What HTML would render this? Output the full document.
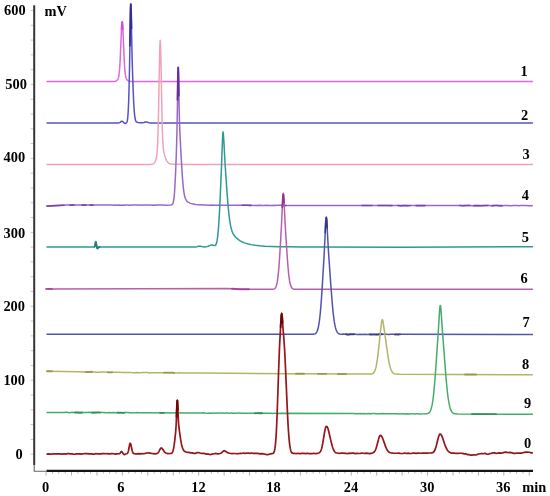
<!DOCTYPE html>
<html><head><meta charset="utf-8"><style>
html,body{margin:0;padding:0;background:#fff;width:550px;height:496px;overflow:hidden}
svg{display:block;filter:blur(0.4px)}
text{font-family:"Liberation Serif",serif}
</style></head><body>
<svg width="550" height="496" viewBox="0 0 550 496">
<rect width="550" height="496" fill="#fff"/>
<path d="M30.6 10.50H33.2 M30.6 25.29H33.2 M30.6 40.08H33.2 M30.6 54.87H33.2 M30.6 69.66H33.2 M30.6 84.45H33.2 M30.6 99.24H33.2 M30.6 114.03H33.2 M30.6 128.82H33.2 M30.6 143.61H33.2 M30.6 158.40H33.2 M30.6 173.19H33.2 M30.6 187.98H33.2 M30.6 202.77H33.2 M30.6 217.56H33.2 M30.6 232.35H33.2 M30.6 247.14H33.2 M30.6 261.93H33.2 M30.6 276.72H33.2 M30.6 291.51H33.2 M30.6 306.30H33.2 M30.6 321.09H33.2 M30.6 335.88H33.2 M30.6 350.67H33.2 M30.6 365.46H33.2 M30.6 380.25H33.2 M30.6 395.04H33.2 M30.6 409.83H33.2 M30.6 424.62H33.2 M30.6 439.41H33.2 M30.6 454.20H33.2" stroke="#c4c4c4" stroke-width="1" fill="none"/>
<path d="M52.46 472V473.6 M58.81 472V473.6 M65.17 472V473.6 M77.89 472V473.6 M84.25 472V473.6 M90.60 472V473.6 M103.32 472V473.6 M109.68 472V473.6 M116.03 472V473.6 M128.75 472V473.6 M135.10 472V473.6 M141.46 472V473.6 M154.18 472V473.6 M160.53 472V473.6 M166.89 472V473.6 M179.61 472V473.6 M185.97 472V473.6 M192.32 472V473.6 M205.04 472V473.6 M211.39 472V473.6 M217.75 472V473.6 M230.47 472V473.6 M236.82 472V473.6 M243.18 472V473.6 M255.90 472V473.6 M262.25 472V473.6 M268.61 472V473.6 M281.33 472V473.6 M287.69 472V473.6 M294.04 472V473.6 M306.76 472V473.6 M313.12 472V473.6 M319.47 472V473.6 M332.19 472V473.6 M338.55 472V473.6 M344.90 472V473.6 M357.62 472V473.6 M363.98 472V473.6 M370.33 472V473.6 M383.05 472V473.6 M389.41 472V473.6 M395.76 472V473.6 M408.48 472V473.6 M414.84 472V473.6 M421.19 472V473.6 M433.91 472V473.6 M440.27 472V473.6 M446.62 472V473.6 M459.34 472V473.6 M465.69 472V473.6 M472.05 472V473.6 M484.77 472V473.6 M491.12 472V473.6 M497.48 472V473.6 M510.20 472V473.6 M516.55 472V473.6 M522.91 472V473.6" stroke="#b4b4b4" stroke-width="1" fill="none"/>
<path d="M46.10 472V475.6 M71.53 472V475.6 M96.96 472V475.6 M122.39 472V475.6 M147.82 472V475.6 M173.25 472V475.6 M198.68 472V475.6 M224.11 472V475.6 M249.54 472V475.6 M274.97 472V475.6 M300.40 472V475.6 M325.83 472V475.6 M351.26 472V475.6 M376.69 472V475.6 M402.12 472V475.6 M427.55 472V475.6 M452.98 472V475.6 M478.41 472V475.6 M503.84 472V475.6 M529.27 472V475.6" stroke="#b0b0b0" stroke-width="1" fill="none"/>
<path d="M34.2 5.2V465" stroke="#363636" stroke-width="2.0" fill="none"/>
<path d="M34.2 465V471.2H46.5" stroke="#666" stroke-width="1.1" fill="none"/>
<path d="M46.5 470.9H533" stroke="#141414" stroke-width="2.2" fill="none"/>
<path d="M46.50 81.50 L112.50 81.49 L114.10 81.43 L115.10 81.29 L115.90 81.03 L116.30 80.82 L116.70 80.54 L117.30 79.95 L117.70 79.38 L118.10 78.58 L118.50 77.38 L118.90 75.49 L119.10 74.17 L119.50 70.44 L119.90 64.89 L120.30 57.28 L121.50 29.14 L121.70 25.77 L121.90 23.39 L122.10 22.16 L122.20 22.00 L122.30 22.16 L122.50 23.39 L122.70 25.77 L123.10 33.30 L123.90 52.78 L124.30 61.34 L124.70 67.92 L124.90 70.44 L125.30 74.17 L125.50 75.49 L125.90 77.38 L126.30 78.58 L126.70 79.38 L127.30 80.17 L127.90 80.69 L128.70 81.11 L129.70 81.36 L131.10 81.47 L134.30 81.50 L532.90 81.50" stroke="#dc69dc" stroke-width="1.5" fill="none" stroke-linejoin="round"/>
<path d="M121.50 29.14 L121.70 25.77 L121.90 23.39 L122.10 22.16 L122.20 22.00 L122.30 22.16 L122.50 23.39 L122.70 25.77 L122.90 29.14" stroke="#e23ae2" stroke-width="1.6" fill="none" stroke-linecap="round" opacity="0.8"/>
<path d="M46.50 122.90 L117.90 122.91 L118.90 122.84 L119.50 122.68 L120.10 122.36 L121.30 121.42 L121.70 121.24 L121.90 121.22 L122.30 121.31 L122.70 121.56 L124.30 123.09 L124.70 123.36 L124.90 123.43 L125.30 123.43 L125.70 123.28 L126.30 122.87 L126.70 122.40 L126.90 122.03 L127.10 121.48 L127.30 120.70 L127.50 119.60 L127.70 118.06 L127.90 115.99 L128.30 109.79 L128.70 100.23 L129.10 86.82 L129.50 68.93 L130.50 10.21 L130.70 4.56 L130.80 3.82 L130.90 4.58 L131.10 9.54 L131.90 48.31 L132.30 64.29 L133.10 88.63 L133.70 102.43 L133.90 106.04 L134.30 111.82 L134.70 115.86 L135.10 118.52 L135.50 120.17 L135.90 121.16 L136.10 121.48 L136.50 121.92 L136.90 122.17 L137.30 122.32 L138.10 122.49 L139.50 122.66 L141.10 122.76 L142.30 122.77 L143.30 122.65 L143.90 122.48 L145.30 121.99 L145.70 121.91 L146.10 121.89 L146.70 122.00 L148.30 122.60 L149.10 122.79 L150.30 122.90 L152.30 122.92 L532.90 123.00" stroke="#5353c2" stroke-width="1.5" fill="none" stroke-linejoin="round"/>
<path d="M129.90 45.71 L130.30 20.24 L130.50 10.21 L130.70 4.56 L130.80 3.82 L130.90 4.58 L131.10 9.54 L131.50 28.25" stroke="#26268a" stroke-width="1.8" fill="none" stroke-linecap="round" opacity="0.8"/>
<path d="M46.50 164.40 L149.90 164.39 L151.50 164.33 L152.50 164.17 L153.30 163.85 L153.70 163.58 L154.10 163.21 L154.70 162.41 L155.30 161.24 L155.90 159.56 L156.30 158.02 L156.70 155.85 L156.90 154.36 L157.30 150.02 L157.50 146.84 L157.90 137.54 L158.30 123.20 L158.70 103.58 L159.30 69.21 L159.70 50.15 L159.90 43.95 L160.10 40.71 L160.20 40.30 L160.30 40.79 L160.50 44.06 L160.70 50.16 L161.10 68.66 L161.90 111.72 L162.30 127.96 L162.70 139.00 L163.10 145.79 L163.50 149.83 L163.90 152.36 L164.50 154.92 L164.90 156.28 L165.50 158.05 L165.90 159.07 L166.50 160.39 L166.90 161.11 L167.50 162.00 L167.90 162.47 L168.50 163.02 L169.10 163.41 L169.90 163.76 L170.70 163.98 L171.50 164.11 L173.70 164.27 L177.90 164.36 L185.30 164.39 L532.90 164.40" stroke="#efa3b6" stroke-width="1.5" fill="none" stroke-linejoin="round"/>
<path d="M46.50 206.10 L66.10 205.10 L109.90 205.10 L112.10 205.06 L113.70 205.14 L115.30 205.10 L116.90 205.17 L118.50 205.12 L121.70 205.18 L123.30 205.02 L124.90 205.18 L126.50 205.04 L128.10 205.06 L129.70 205.18 L132.90 205.00 L134.50 205.00 L136.10 205.09 L139.30 205.06 L140.90 205.14 L144.10 205.08 L145.70 205.12 L147.30 205.04 L148.90 205.11 L150.50 205.05 L152.10 205.19 L153.70 205.11 L155.30 205.19 L156.90 205.07 L158.50 205.03 L160.10 205.09 L163.30 205.08 L164.90 205.15 L171.10 205.04 L171.70 204.88 L172.10 204.64 L172.30 204.44 L172.70 203.85 L172.90 203.41 L173.30 202.13 L173.70 200.11 L174.10 197.06 L174.50 192.70 L174.90 186.80 L175.50 174.94 L176.30 154.50 L176.90 134.28 L177.30 113.14 L177.90 74.59 L178.10 67.96 L178.20 67.09 L178.30 68.20 L178.50 74.29 L179.30 115.43 L179.70 128.13 L180.10 136.74 L181.50 162.90 L182.30 175.62 L182.90 183.22 L183.50 189.08 L184.10 193.37 L184.70 196.33 L185.30 198.33 L185.90 199.71 L186.30 200.41 L186.70 200.97 L187.30 201.63 L188.10 202.17 L190.50 203.39 L192.10 203.84 L193.70 204.10 L195.30 204.52 L200.10 204.75 L203.30 205.01 L204.90 205.05 L206.50 205.03 L208.10 205.17 L209.70 205.20 L211.30 205.04 L214.50 205.21 L216.10 205.17 L217.70 205.21 L219.30 205.10 L220.90 205.22 L222.50 205.14 L224.10 205.15 L225.70 205.24 L227.30 205.26 L228.90 205.21 L230.50 205.24 L232.10 205.21 L233.70 205.27 L235.30 205.18 L238.50 205.33 L240.10 205.21 L241.70 205.19 L244.90 205.27 L248.10 205.21 L249.70 205.40 L251.30 205.31 L252.90 205.41 L260.90 205.27 L262.50 205.40 L264.10 205.45 L265.70 205.26 L270.50 205.46 L272.10 205.48 L273.70 205.31 L275.30 205.40 L276.90 205.34 L281.70 205.37 L283.30 205.48 L284.90 205.49 L288.10 205.40 L291.30 205.41 L296.10 205.55 L297.70 205.46 L300.90 205.50 L304.10 205.41 L305.70 205.41 L307.30 205.58 L312.10 205.47 L313.70 205.55 L315.30 205.42 L316.90 205.52 L318.50 205.45 L320.10 205.60 L321.70 205.55 L323.30 205.61 L324.90 205.45 L326.50 205.51 L328.10 205.42 L331.30 205.55 L334.50 205.54 L337.70 205.59 L339.30 205.49 L340.90 205.55 L344.10 205.48 L345.70 205.56 L350.50 205.56 L352.10 205.49 L353.70 205.60 L355.30 205.54 L356.90 205.60 L358.50 205.49 L360.10 205.57 L361.70 205.43 L363.30 205.53 L364.90 205.50 L366.50 205.52 L368.10 205.47 L371.30 205.50 L372.90 205.62 L374.50 205.60 L376.10 205.48 L377.70 205.55 L379.30 205.44 L380.90 205.51 L385.70 205.44 L387.30 205.51 L388.90 205.45 L390.50 205.55 L393.70 205.62 L395.30 205.59 L396.90 205.46 L398.50 205.51 L400.10 205.63 L401.70 205.64 L403.30 205.55 L404.90 205.54 L408.10 205.64 L409.70 205.59 L411.30 205.47 L414.50 205.49 L416.10 205.60 L417.70 205.52 L419.30 205.61 L420.90 205.59 L422.50 205.46 L424.10 205.61 L427.30 205.61 L428.90 205.48 L432.10 205.54 L433.70 205.49 L435.30 205.57 L436.90 205.48 L438.50 205.50 L440.10 205.60 L444.90 205.57 L446.50 205.50 L449.70 205.52 L452.90 205.61 L456.10 205.47 L457.70 205.54 L459.30 205.53 L460.90 205.62 L462.50 205.65 L467.30 205.53 L468.90 205.58 L470.50 205.56 L472.10 205.66 L476.90 205.61 L480.10 205.65 L483.30 205.61 L484.90 205.51 L488.10 205.48 L489.70 205.53 L491.30 205.68 L492.90 205.64 L494.50 205.48 L496.10 205.54 L497.70 205.51 L499.30 205.65 L502.50 205.67 L504.10 205.58 L507.30 205.59 L510.50 205.69 L513.70 205.51 L516.90 205.58 L518.50 205.68 L520.10 205.61 L521.70 205.62 L523.30 205.57 L524.90 205.62 L526.50 205.54 L528.10 205.64 L529.70 205.55 L531.30 205.68 L532.90 205.60" stroke="#9a68c4" stroke-width="1.5" fill="none" stroke-linejoin="round"/>
<path d="M47.00 206.10 L64.00 205.21" stroke="#6e38a4" stroke-width="1.6" fill="none" stroke-linecap="round" opacity="0.8"/>
<path d="M70.00 205.10 L74.00 205.10" stroke="#6e38a4" stroke-width="1.6" fill="none" stroke-linecap="round" opacity="0.8"/>
<path d="M82.00 205.10 L86.00 205.10" stroke="#6e38a4" stroke-width="1.6" fill="none" stroke-linecap="round" opacity="0.8"/>
<path d="M90.00 205.10 L93.00 205.10" stroke="#6e38a4" stroke-width="1.6" fill="none" stroke-linecap="round" opacity="0.8"/>
<path d="M242.00 205.20 L244.80 205.27 L248.00 205.21 L249.80 205.39 L251.00 205.32" stroke="#6e38a4" stroke-width="1.6" fill="none" stroke-linecap="round" opacity="0.8"/>
<path d="M282.00 205.39 L283.40 205.48 L286.00 205.47" stroke="#6e38a4" stroke-width="1.6" fill="none" stroke-linecap="round" opacity="0.8"/>
<path d="M362.00 205.45 L363.40 205.53 L366.60 205.52 L368.20 205.47 L371.20 205.50 L372.00 205.56" stroke="#6e38a4" stroke-width="1.6" fill="none" stroke-linecap="round" opacity="0.8"/>
<path d="M378.00 205.53 L379.40 205.44 L381.00 205.51 L385.60 205.45 L387.40 205.50 L388.80 205.45 L392.00 205.58" stroke="#6e38a4" stroke-width="1.6" fill="none" stroke-linecap="round" opacity="0.8"/>
<path d="M398.00 205.50 L400.20 205.63 L401.60 205.64 L404.80 205.54 L408.00 205.64 L410.00 205.57" stroke="#6e38a4" stroke-width="1.6" fill="none" stroke-linecap="round" opacity="0.8"/>
<path d="M416.00 205.59 L417.60 205.52 L419.40 205.61 L420.80 205.59 L422.40 205.47 L424.00 205.60 L425.00 205.60" stroke="#6e38a4" stroke-width="1.6" fill="none" stroke-linecap="round" opacity="0.8"/>
<path d="M460.00 205.57 L462.40 205.64 L467.20 205.53 L470.00 205.57" stroke="#6e38a4" stroke-width="1.6" fill="none" stroke-linecap="round" opacity="0.8"/>
<path d="M474.00 205.66 L477.00 205.61 L480.00 205.65 L483.20 205.61 L485.00 205.51 L488.00 205.48" stroke="#6e38a4" stroke-width="1.6" fill="none" stroke-linecap="round" opacity="0.8"/>
<path d="M492.00 205.66 L493.00 205.63 L494.60 205.49 L496.00 205.54 L497.80 205.52 L499.40 205.65 L502.00 205.66" stroke="#6e38a4" stroke-width="1.6" fill="none" stroke-linecap="round" opacity="0.8"/>
<path d="M177.50 99.75 L177.90 74.59 L178.10 67.96 L178.20 67.09 L178.30 68.20 L178.50 74.29 L178.90 95.49" stroke="#56208e" stroke-width="1.8" fill="none" stroke-linecap="round" opacity="0.8"/>
<path d="M46.50 246.90 L94.10 246.92 L94.30 246.88 L94.50 246.77 L94.70 246.49 L94.90 245.95 L95.10 245.06 L95.50 242.77 L95.70 242.05 L95.80 241.97 L95.90 242.08 L96.10 242.86 L96.50 245.44 L96.90 247.40 L97.10 247.97 L97.30 248.30 L97.50 248.42 L97.70 248.36 L98.50 247.31 L98.70 247.14 L99.10 246.98 L99.50 246.95 L193.10 247.01 L194.50 246.98 L195.70 246.89 L196.70 246.72 L198.50 246.31 L199.50 246.22 L200.50 246.32 L203.10 246.86 L204.70 246.95 L205.90 246.87 L207.10 246.63 L208.10 246.28 L210.10 245.36 L211.10 245.07 L211.70 245.03 L212.30 245.09 L213.90 245.55 L214.30 245.62 L214.70 245.61 L215.10 245.47 L215.50 245.16 L215.70 244.91 L216.10 244.18 L216.30 243.68 L216.70 242.33 L217.10 240.43 L217.50 237.86 L217.90 234.49 L218.30 230.23 L218.70 225.01 L219.50 211.71 L220.50 190.83 L221.30 171.46 L222.50 138.95 L222.70 135.19 L222.90 132.77 L223.00 132.15 L223.10 131.94 L223.30 133.33 L223.70 138.62 L225.10 164.17 L226.30 182.01 L227.50 198.46 L228.30 207.91 L228.90 213.90 L229.70 220.35 L230.50 225.20 L230.90 227.12 L231.30 228.75 L231.70 230.14 L232.30 231.85 L232.70 232.80 L233.30 233.99 L233.90 234.98 L234.70 236.07 L235.70 237.21 L236.70 238.18 L237.90 239.19 L239.10 240.06 L240.30 240.82 L241.70 241.58 L243.10 242.24 L244.70 242.89 L246.10 243.36 L247.70 243.84 L249.30 244.24 L251.10 244.62 L255.10 245.27 L259.70 245.78 L264.90 246.16 L271.30 246.47 L279.10 246.71 L288.50 246.87 L302.50 247.00 L321.30 247.09 L399.90 247.20 L532.90 246.70" stroke="#2d9997" stroke-width="1.5" fill="none" stroke-linejoin="round"/>
<path d="M94.50 246.77 L94.70 246.49 L94.90 245.95 L95.10 245.06 L95.50 242.77 L95.70 242.05 L95.80 241.97 L95.90 242.08 L96.10 242.86 L96.70 246.57 L96.90 247.40 L97.10 247.97 L97.30 248.30 L97.50 248.42 L97.70 248.36 L98.50 247.31 L98.70 247.14 L99.10 246.98 L99.50 246.95" stroke="#1f7878" stroke-width="1.9" fill="none" stroke-linecap="round" opacity="0.8"/>
<path d="M46.50 288.90 L227.90 288.40 L240.10 289.30 L271.10 289.29 L272.90 289.22 L273.50 289.13 L274.10 288.95 L274.50 288.75 L274.90 288.45 L275.50 287.73 L275.90 286.98 L276.10 286.51 L276.70 284.56 L277.30 281.63 L277.70 278.98 L278.10 275.71 L278.50 271.76 L278.90 267.12 L279.50 258.94 L280.50 242.91 L281.50 224.71 L282.70 199.53 L282.90 196.57 L283.10 194.66 L283.20 194.17 L283.30 194.00 L283.40 194.16 L283.50 194.63 L283.70 196.47 L283.90 199.31 L285.30 226.64 L286.70 249.17 L287.70 263.29 L288.50 272.33 L288.90 275.95 L289.50 280.29 L289.90 282.52 L290.50 285.02 L291.10 286.70 L291.70 287.79 L292.30 288.45 L292.70 288.74 L293.10 288.93 L293.70 289.11 L294.50 289.23 L297.50 289.30 L532.90 289.30" stroke="#b560b1" stroke-width="1.5" fill="none" stroke-linejoin="round"/>
<path d="M46.00 288.90 L52.00 288.89" stroke="#9a3c98" stroke-width="1.9" fill="none" stroke-linecap="round" opacity="0.8"/>
<path d="M232.00 288.70 L240.00 289.30 L249.00 289.30" stroke="#9a3c98" stroke-width="1.9" fill="none" stroke-linecap="round" opacity="0.8"/>
<path d="M282.30 207.49 L282.70 199.53 L282.90 196.57 L283.10 194.66 L283.20 194.17 L283.30 194.00 L283.40 194.16 L283.50 194.63 L283.70 196.47 L284.10 202.88" stroke="#8e2a8a" stroke-width="1.7" fill="none" stroke-linecap="round" opacity="0.8"/>
<path d="M46.50 334.20 L309.70 334.31 L311.90 334.29 L313.10 334.23 L314.10 334.10 L314.90 333.85 L315.50 333.51 L315.90 333.18 L316.30 332.73 L316.70 332.14 L317.10 331.36 L317.50 330.35 L318.10 328.31 L318.70 325.47 L319.30 321.67 L319.90 316.75 L320.30 312.82 L320.70 308.33 L321.30 300.63 L322.30 285.67 L324.10 255.55 L325.70 222.73 L325.90 219.92 L326.10 218.13 L326.20 217.67 L326.30 217.52 L326.40 217.66 L326.50 218.09 L326.70 219.78 L326.90 222.41 L327.90 241.56 L328.50 251.91 L330.90 286.08 L332.10 301.66 L333.10 312.29 L333.70 317.44 L334.30 321.67 L334.90 325.06 L335.50 327.68 L336.10 329.67 L336.50 330.70 L336.90 331.53 L337.30 332.19 L337.70 332.71 L338.10 333.12 L338.70 333.55 L339.10 333.76 L339.70 333.98 L341.10 334.27 L341.70 334.24 L342.50 334.12 L345.70 334.14 L347.30 334.47 L348.90 334.45 L350.50 334.20 L352.10 334.34 L353.70 334.19 L355.30 334.27 L356.90 334.51 L358.50 334.48 L360.10 334.24 L361.70 334.42 L364.90 334.28 L366.50 334.51 L368.10 334.49 L369.70 334.34 L371.30 334.53 L372.90 334.40 L374.50 334.38 L376.10 334.50 L377.70 334.50 L379.30 334.23 L384.10 334.36 L385.70 334.17 L387.30 334.35 L388.90 334.47 L390.50 334.34 L393.70 334.32 L395.30 334.40 L396.90 334.34 L398.50 334.48 L399.30 334.37 L399.90 334.34 L532.90 334.40" stroke="#5353ad" stroke-width="1.5" fill="none" stroke-linejoin="round"/>
<path d="M346.00 334.20 L347.40 334.47 L348.80 334.45 L350.40 334.21 L352.00 334.33 L353.60 334.20 L354.00 334.20" stroke="#34347e" stroke-width="1.9" fill="none" stroke-linecap="round" opacity="0.8"/>
<path d="M370.00 334.37 L371.40 334.52 L372.80 334.40 L374.40 334.38 L376.20 334.50 L377.60 334.50 L379.40 334.23 L382.00 334.32" stroke="#34347e" stroke-width="1.9" fill="none" stroke-linecap="round" opacity="0.8"/>
<path d="M395.00 334.39 L396.80 334.35 L398.40 334.48 L399.20 334.37 L400.00 334.35" stroke="#34347e" stroke-width="1.9" fill="none" stroke-linecap="round" opacity="0.8"/>
<path d="M325.20 232.62 L325.60 224.44 L325.80 221.21 L326.00 218.89 L326.20 217.67 L326.30 217.52 L326.40 217.66 L326.60 218.81 L326.80 220.99 L327.20 227.63" stroke="#303088" stroke-width="1.7" fill="none" stroke-linecap="round" opacity="0.8"/>
<path d="M46.50 371.20 L79.90 371.76 L81.70 371.91 L83.30 371.82 L84.90 371.99 L88.10 372.00 L89.70 371.96 L91.30 371.81 L92.90 372.09 L94.50 371.96 L97.70 372.15 L99.30 372.17 L100.90 372.00 L102.50 372.00 L104.10 372.08 L105.70 372.04 L107.30 372.13 L108.90 372.33 L110.50 372.38 L112.10 372.27 L116.90 372.22 L118.50 372.29 L120.10 372.24 L121.70 372.39 L124.90 372.40 L126.50 372.54 L128.10 372.45 L129.70 372.44 L131.30 372.60 L132.90 372.68 L134.50 372.67 L136.10 372.59 L140.90 372.71 L142.50 372.58 L144.10 372.61 L145.70 372.52 L147.30 372.51 L148.90 372.90 L152.10 372.63 L153.70 372.72 L155.30 372.70 L156.90 372.85 L158.50 372.81 L160.10 372.63 L161.70 372.71 L163.30 372.64 L164.90 372.63 L172.90 372.67 L174.50 372.89 L177.70 372.89 L179.10 372.84 L180.10 372.89 L200.10 373.00 L290.10 373.70 L367.70 374.08 L370.10 374.06 L371.50 373.93 L372.30 373.73 L372.70 373.56 L373.10 373.32 L373.70 372.78 L374.30 371.95 L374.90 370.73 L375.30 369.63 L375.90 367.48 L376.30 365.66 L377.10 361.02 L377.90 355.07 L378.70 348.07 L380.70 329.34 L381.30 324.12 L381.70 321.39 L381.90 320.44 L382.10 319.85 L382.20 319.70 L382.30 319.64 L382.40 319.69 L382.50 319.81 L382.70 320.31 L382.90 321.09 L383.30 323.30 L385.30 337.07 L387.70 354.45 L388.70 360.53 L389.50 364.47 L389.90 366.11 L390.50 368.18 L391.10 369.82 L391.70 371.09 L392.30 372.03 L392.90 372.73 L393.70 373.35 L394.50 373.73 L395.30 373.95 L396.50 374.12 L399.90 374.22 L532.90 374.80" stroke="#b2b664" stroke-width="1.5" fill="none" stroke-linejoin="round"/>
<path d="M47.00 371.20 L52.00 371.29" stroke="#8e9440" stroke-width="1.9" fill="none" stroke-linecap="round" opacity="0.8"/>
<path d="M86.00 371.97 L88.20 372.00 L89.60 371.96 L91.20 371.82 L92.00 371.93" stroke="#8e9440" stroke-width="1.9" fill="none" stroke-linecap="round" opacity="0.8"/>
<path d="M108.00 372.22 L109.00 372.33 L110.40 372.38 L112.00 372.28" stroke="#8e9440" stroke-width="1.9" fill="none" stroke-linecap="round" opacity="0.8"/>
<path d="M164.00 372.64 L172.80 372.67 L174.00 372.82" stroke="#8e9440" stroke-width="1.9" fill="none" stroke-linecap="round" opacity="0.8"/>
<path d="M296.00 373.73 L304.00 373.77" stroke="#8e9440" stroke-width="1.9" fill="none" stroke-linecap="round" opacity="0.8"/>
<path d="M318.00 373.84 L326.00 373.88" stroke="#8e9440" stroke-width="1.9" fill="none" stroke-linecap="round" opacity="0.8"/>
<path d="M338.00 373.93 L346.00 373.97" stroke="#8e9440" stroke-width="1.9" fill="none" stroke-linecap="round" opacity="0.8"/>
<path d="M465.00 374.50 L476.00 374.55" stroke="#8e9440" stroke-width="1.9" fill="none" stroke-linecap="round" opacity="0.8"/>
<path d="M46.50 412.40 L60.10 412.45 L60.90 412.39 L61.50 412.43 L62.50 412.59 L64.10 412.59 L65.70 412.30 L67.30 412.31 L68.90 412.65 L70.50 412.56 L72.10 412.30 L73.70 412.55 L75.30 412.46 L78.50 412.47 L80.10 412.71 L81.70 412.45 L83.30 412.42 L84.90 412.57 L86.50 412.62 L89.70 412.37 L91.30 412.40 L92.90 412.70 L94.50 412.48 L96.10 412.60 L97.70 412.41 L99.30 412.42 L100.90 412.62 L102.50 412.46 L104.10 412.47 L105.70 412.79 L107.30 412.68 L108.90 412.47 L110.50 412.76 L113.70 412.61 L115.30 412.73 L116.90 412.56 L118.50 412.81 L120.10 412.65 L121.70 412.67 L123.30 412.89 L124.90 412.59 L128.10 412.58 L129.70 412.85 L131.30 412.72 L132.90 412.88 L134.50 412.65 L136.10 412.70 L137.70 412.60 L138.50 412.76 L139.30 412.81 L140.10 412.77 L200.70 412.97 L201.70 413.02 L203.30 412.86 L204.90 413.06 L208.10 413.15 L209.70 413.01 L211.30 413.15 L212.90 412.91 L214.50 413.02 L216.10 413.21 L217.70 413.03 L219.30 413.08 L220.90 413.03 L222.50 413.06 L224.10 413.21 L225.70 413.11 L227.30 413.07 L228.90 413.24 L230.50 413.01 L232.10 413.06 L233.70 413.22 L235.30 413.26 L238.50 413.11 L240.10 413.12 L241.70 413.28 L243.30 413.14 L244.90 413.16 L246.50 413.28 L248.10 413.19 L251.30 413.13 L252.90 413.32 L254.50 413.34 L256.10 413.16 L257.70 413.08 L259.30 413.21 L260.90 413.12 L262.50 413.28 L264.10 413.35 L265.70 413.21 L267.30 413.33 L268.90 413.16 L270.50 413.20 L272.10 413.42 L273.70 413.34 L275.30 413.21 L276.90 413.43 L280.10 413.31 L350.50 413.59 L353.70 413.49 L355.30 413.66 L356.90 413.54 L358.50 413.64 L360.10 413.50 L361.70 413.67 L363.30 413.62 L364.90 413.66 L366.50 413.76 L369.70 413.59 L371.30 413.63 L372.90 413.54 L374.50 413.59 L376.10 413.80 L377.70 413.69 L379.30 413.72 L380.90 413.85 L382.50 413.58 L385.70 413.78 L387.30 413.69 L392.10 413.63 L393.70 413.73 L396.90 413.75 L400.10 413.92 L401.70 413.72 L403.30 413.73 L404.90 413.92 L406.50 413.85 L409.70 413.93 L411.30 413.77 L412.90 413.86 L414.50 413.89 L416.10 413.77 L417.70 413.76 L419.10 413.88 L424.50 413.86 L426.30 413.78 L427.50 413.57 L428.10 413.36 L428.70 413.02 L429.10 412.70 L429.50 412.27 L429.90 411.72 L430.30 411.01 L430.90 409.58 L431.50 407.59 L432.10 404.92 L432.70 401.43 L433.30 397.01 L434.10 389.55 L435.10 377.76 L435.90 366.74 L438.10 334.49 L439.50 311.91 L439.90 307.20 L440.10 305.89 L440.20 305.55 L440.30 305.44 L440.40 305.55 L440.50 305.87 L440.70 307.11 L440.90 309.06 L441.30 314.42 L442.30 329.40 L445.30 368.55 L446.30 380.72 L447.30 390.97 L447.70 394.43 L448.30 398.94 L448.90 402.64 L449.50 405.60 L450.10 407.91 L450.70 409.68 L451.30 410.99 L451.70 411.66 L452.10 412.20 L452.50 412.63 L453.10 413.10 L453.50 413.33 L454.10 413.57 L454.70 413.74 L455.50 413.87 L457.50 413.98 L532.90 414.30" stroke="#44ac6a" stroke-width="1.5" fill="none" stroke-linejoin="round"/>
<path d="M75.00 412.48 L78.40 412.46 L80.00 412.69 L82.00 412.44" stroke="#2a8a48" stroke-width="1.9" fill="none" stroke-linecap="round" opacity="0.8"/>
<path d="M92.00 412.53 L93.00 412.69 L94.40 412.50 L96.20 412.59 L97.80 412.41 L99.20 412.42 L100.00 412.51" stroke="#2a8a48" stroke-width="1.9" fill="none" stroke-linecap="round" opacity="0.8"/>
<path d="M118.00 412.73 L118.60 412.80 L120.00 412.66 L121.60 412.67 L123.20 412.88 L124.00 412.76" stroke="#2a8a48" stroke-width="1.9" fill="none" stroke-linecap="round" opacity="0.8"/>
<path d="M160.00 412.84 L164.00 412.86" stroke="#2a8a48" stroke-width="1.9" fill="none" stroke-linecap="round" opacity="0.8"/>
<path d="M255.00 413.28 L256.20 413.15 L257.60 413.08 L259.20 413.20 L260.80 413.13 L262.00 413.23" stroke="#2a8a48" stroke-width="1.9" fill="none" stroke-linecap="round" opacity="0.8"/>
<path d="M472.00 414.06 L496.00 414.16" stroke="#2a8a48" stroke-width="1.9" fill="none" stroke-linecap="round" opacity="0.8"/>
<path d="M46.50 454.03 L49.70 453.97 L51.30 454.19 L54.50 453.76 L56.10 453.95 L57.70 453.97 L59.30 453.83 L62.50 454.12 L64.10 453.73 L65.70 454.19 L67.30 453.68 L68.90 453.69 L70.50 453.92 L72.10 453.94 L73.70 454.25 L75.30 454.17 L76.90 453.75 L80.10 453.85 L81.70 454.18 L83.30 453.77 L84.90 453.58 L86.50 453.66 L89.70 453.95 L91.30 453.96 L92.90 454.15 L94.50 454.22 L96.10 453.57 L97.70 453.97 L99.30 453.97 L100.90 453.90 L102.50 453.55 L104.10 453.59 L105.70 453.75 L107.30 453.68 L108.90 453.85 L112.10 453.66 L113.70 453.75 L115.30 454.17 L116.90 453.88 L118.90 453.77 L119.50 453.60 L119.90 453.34 L120.10 453.14 L121.10 451.78 L121.30 451.62 L121.50 451.55 L121.70 451.59 L122.10 451.99 L123.10 453.57 L123.70 454.30 L124.10 454.55 L124.50 454.57 L124.90 454.42 L125.70 454.00 L126.70 453.77 L127.10 453.59 L127.50 453.23 L127.70 452.94 L128.10 451.99 L128.50 450.51 L129.70 444.23 L129.90 443.61 L130.10 443.29 L130.20 443.26 L130.30 443.30 L130.50 443.57 L130.70 444.07 L130.90 444.76 L132.10 450.28 L132.50 451.68 L132.70 452.22 L132.90 452.66 L133.30 453.23 L133.70 453.54 L134.10 453.67 L136.10 453.82 L139.30 453.63 L140.90 453.83 L142.50 453.69 L144.10 453.74 L145.70 453.20 L147.50 452.99 L148.70 452.94 L149.90 453.05 L152.10 453.52 L152.90 453.60 L155.30 453.80 L156.10 453.67 L157.10 453.36 L157.50 453.20 L157.90 452.93 L158.30 452.53 L158.90 451.63 L160.10 449.22 L160.50 448.57 L160.90 448.12 L161.10 448.00 L161.30 447.96 L161.70 448.08 L162.10 448.45 L162.70 449.24 L163.70 450.80 L164.50 451.91 L164.90 452.38 L165.50 452.81 L165.90 453.01 L167.10 453.41 L168.10 453.64 L169.70 453.49 L170.70 453.52 L171.30 453.40 L171.70 453.17 L171.90 453.00 L172.30 452.51 L172.50 452.17 L172.90 451.23 L173.30 449.78 L173.70 447.86 L174.10 445.42 L174.70 440.89 L175.10 437.47 L175.70 431.56 L176.10 425.81 L176.30 421.68 L176.90 405.55 L177.10 401.63 L177.20 400.55 L177.30 400.18 L177.40 400.61 L177.50 401.63 L177.70 405.10 L178.30 418.83 L178.70 424.86 L178.90 426.90 L179.30 430.16 L180.30 437.25 L180.70 439.81 L181.30 443.17 L181.70 445.01 L182.30 447.19 L182.90 448.84 L183.30 449.69 L183.70 450.36 L184.10 450.90 L184.30 451.08 L185.10 451.62 L186.10 452.05 L187.30 452.42 L188.90 452.43 L190.50 452.82 L192.10 452.89 L193.70 453.39 L195.30 453.35 L196.90 452.70 L198.50 452.61 L199.30 452.76 L200.10 453.03 L201.70 453.47 L203.30 453.40 L204.90 453.60 L206.50 454.26 L208.10 453.96 L209.70 454.55 L210.90 454.37 L213.90 453.73 L215.10 453.56 L216.10 453.47 L217.70 453.93 L218.70 453.79 L220.10 453.50 L220.90 453.17 L221.50 452.78 L222.50 451.95 L223.30 451.15 L223.70 450.85 L224.10 450.64 L224.50 450.72 L224.90 450.88 L227.30 452.44 L228.30 452.94 L229.50 453.27 L232.10 453.58 L233.70 453.50 L235.30 453.51 L236.90 453.75 L238.50 453.72 L240.10 453.21 L241.70 453.54 L243.30 453.03 L244.90 453.42 L248.10 453.00 L249.70 453.35 L251.30 453.00 L252.90 453.33 L254.50 453.26 L256.10 453.43 L257.70 453.34 L259.30 453.79 L260.90 453.69 L264.10 453.97 L265.70 454.37 L267.30 454.54 L268.90 454.30 L270.50 453.83 L272.10 453.72 L272.70 453.54 L273.10 453.34 L273.50 453.00 L273.70 452.74 L274.10 451.94 L274.50 450.66 L274.90 448.66 L275.10 447.32 L275.50 443.81 L276.10 436.01 L276.50 428.83 L277.10 415.06 L278.90 362.68 L279.50 347.68 L280.10 335.85 L281.10 318.73 L281.30 316.06 L281.50 314.30 L281.60 313.85 L281.70 313.70 L281.80 313.86 L281.90 314.31 L282.10 315.99 L282.90 327.00 L283.90 338.96 L284.50 348.00 L284.90 355.38 L285.50 367.99 L287.50 413.90 L288.10 425.30 L288.70 434.39 L289.10 439.20 L289.50 443.05 L289.90 446.10 L290.30 448.48 L290.70 450.24 L290.90 450.93 L291.30 452.00 L291.70 452.60 L291.90 452.81 L292.30 453.09 L292.70 453.24 L293.10 453.31 L293.70 453.33 L294.50 453.27 L296.10 453.73 L297.70 453.25 L299.30 453.56 L302.50 453.41 L304.10 453.43 L305.70 453.56 L307.30 453.25 L308.90 453.56 L310.50 453.71 L312.10 453.70 L313.70 453.21 L315.30 453.57 L317.10 453.46 L317.90 453.31 L318.70 453.06 L319.10 452.88 L319.50 452.61 L320.10 451.99 L320.70 451.00 L321.30 449.52 L321.70 448.20 L322.10 446.54 L322.70 443.51 L324.50 432.55 L325.10 429.41 L325.50 427.86 L325.70 427.27 L325.90 426.83 L326.10 426.54 L326.30 426.41 L326.40 426.41 L326.70 426.48 L326.90 426.61 L327.30 427.11 L327.70 427.91 L328.10 428.99 L328.90 431.95 L330.90 440.85 L331.70 444.09 L332.30 446.20 L332.70 447.42 L333.30 449.06 L333.70 450.00 L334.30 451.16 L334.70 451.74 L335.30 452.36 L335.90 452.79 L336.10 452.90 L336.70 453.02 L337.70 453.01 L339.30 453.48 L340.90 453.14 L342.50 453.14 L345.70 453.28 L347.30 453.61 L348.90 453.21 L350.50 453.43 L352.10 453.20 L353.70 453.15 L355.30 453.59 L356.90 453.42 L360.10 453.52 L361.70 453.13 L363.30 453.26 L364.90 453.31 L366.50 453.21 L368.10 453.31 L369.70 453.57 L372.10 453.11 L373.10 452.77 L373.50 452.55 L373.90 452.24 L374.50 451.58 L375.10 450.60 L375.50 449.74 L375.90 448.71 L376.70 446.26 L377.50 443.34 L378.50 439.37 L379.10 437.34 L379.30 436.79 L379.70 435.94 L380.10 435.44 L380.40 435.31 L380.70 435.36 L380.90 435.45 L381.30 435.85 L381.70 436.44 L382.30 437.64 L382.90 439.03 L383.70 441.12 L385.70 446.97 L386.70 449.13 L387.50 450.46 L388.30 451.49 L388.90 452.06 L389.70 452.45 L391.30 452.87 L392.90 453.08 L396.90 453.23 L398.50 453.17 L400.10 453.37 L401.70 453.48 L403.30 453.30 L404.90 453.03 L406.50 453.48 L408.10 453.21 L409.70 453.44 L411.30 453.49 L412.90 453.14 L414.50 453.16 L416.10 453.36 L417.70 453.20 L420.90 453.24 L422.50 453.12 L424.10 453.08 L425.70 453.08 L427.30 453.17 L428.90 452.99 L431.10 452.91 L431.90 452.81 L432.50 452.67 L432.90 452.51 L433.30 452.27 L433.70 451.93 L434.30 451.12 L434.90 449.98 L435.50 448.43 L436.10 446.42 L437.90 439.19 L438.70 436.36 L439.10 435.28 L439.50 434.52 L439.70 434.27 L439.90 434.11 L440.10 434.05 L440.50 434.16 L440.90 434.47 L441.50 435.31 L441.90 436.11 L442.70 438.18 L445.10 445.40 L446.10 447.75 L447.10 449.66 L447.90 450.85 L448.30 451.31 L448.70 451.67 L449.30 452.10 L450.10 452.56 L450.70 452.85 L451.30 453.08 L452.10 453.10 L452.90 453.04 L454.50 453.07 L456.10 453.46 L457.70 453.43 L459.30 453.26 L459.90 453.24 L460.90 453.23 L462.50 453.29 L464.10 453.91 L465.70 453.77 L467.30 454.59 L468.90 454.50 L470.50 455.21 L471.50 455.12 L473.70 454.82 L475.30 455.02 L476.90 454.62 L478.50 453.97 L481.70 453.48 L483.30 453.75 L484.10 453.51 L484.90 453.35 L486.70 454.06 L487.50 454.26 L488.10 454.32 L488.90 454.02 L489.70 453.62 L491.30 453.37 L492.10 453.13 L492.90 452.95 L494.50 452.88 L496.10 453.34 L497.70 453.17 L499.30 452.85 L500.90 453.05 L502.50 452.84 L504.10 452.37 L505.70 452.09 L507.30 452.45 L508.90 452.55 L510.50 452.37 L512.10 452.93 L513.10 453.18 L513.70 453.32 L514.70 453.41 L515.50 453.37 L516.90 453.02 L520.10 453.10 L521.70 453.03 L523.30 452.59 L524.30 452.45 L525.90 452.08 L526.50 452.00 L527.30 452.07 L528.10 452.25 L529.70 452.27 L530.90 452.83 L531.30 452.97 L532.90 452.94" stroke="#96141a" stroke-width="1.7" fill="none" stroke-linejoin="round"/>
<path d="M176.50 416.60 L176.90 405.55 L177.10 401.63 L177.20 400.55 L177.30 400.18 L177.40 400.61 L177.50 401.63 L177.90 409.75" stroke="#640000" stroke-width="1.9" fill="none" stroke-linecap="round" opacity="0.8"/>
<path d="M280.60 327.16 L281.20 317.31 L281.40 315.05 L281.60 313.85 L281.70 313.70 L281.80 313.86 L282.00 315.03 L282.20 317.16 L282.60 322.81" stroke="#640000" stroke-width="1.9" fill="none" stroke-linecap="round" opacity="0.8"/>
<g font-family="Liberation Serif" font-weight="bold" font-size="14.4" fill="#000">
<text x="25.6" y="14.6" text-anchor="end">600</text>
<text x="26.9" y="88.7" text-anchor="end">500</text>
<text x="25.2" y="161.6" text-anchor="end">400</text>
<text x="25.2" y="237.8" text-anchor="end">300</text>
<text x="25.0" y="311.1" text-anchor="end">200</text>
<text x="25.0" y="385.1" text-anchor="end">100</text>
<text x="22.6" y="459.4" text-anchor="end">0</text>
<text x="44.5" y="16.2">mV</text>
<text x="45.6" y="492.0" text-anchor="middle">0</text>
<text x="120.8" y="492.0" text-anchor="middle">6</text>
<text x="198.4" y="492.0" text-anchor="middle">12</text>
<text x="273.4" y="492.0" text-anchor="middle">18</text>
<text x="350.9" y="492.0" text-anchor="middle">24</text>
<text x="427.3" y="492.0" text-anchor="middle">30</text>
<text x="503.3" y="492.0" text-anchor="middle">36</text>
<text x="522.2" y="492.0">min</text>
<text x="524.1" y="76.2" text-anchor="middle">1</text>
<text x="524.6" y="120.1" text-anchor="middle">2</text>
<text x="526.2" y="159.2" text-anchor="middle">3</text>
<text x="525.4" y="199.6" text-anchor="middle">4</text>
<text x="525.4" y="242.2" text-anchor="middle">5</text>
<text x="524.0" y="282.6" text-anchor="middle">6</text>
<text x="526.1" y="326.5" text-anchor="middle">7</text>
<text x="525.7" y="368.8" text-anchor="middle">8</text>
<text x="527.5" y="408.2" text-anchor="middle">9</text>
<text x="527.7" y="447.7" text-anchor="middle">0</text>
</g>
</svg>
</body></html>
